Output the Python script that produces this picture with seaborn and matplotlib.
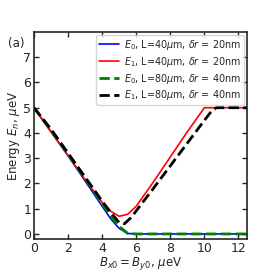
import numpy as np
import pandas as pd
import seaborn as sns
import matplotlib.pyplot as plt

# values
b_e0_L40 = [0, 1, 2, 3, 4, 4.5, 5.0, 5.5, 6, 8, 10, 12.5]
e_e0_L40 = [5, 4.05, 3.1, 2.1, 1.1, 0.6, 0.22, 0.02, 0.0, 0.0, 0.0, 0.0]

b_e1_L40 = [0, 1, 2, 3, 4, 4.5, 5.0, 5.5, 6.0, 7, 8, 9, 10, 12.5]
e1_L40 = [5, 4.05, 3.1, 2.15, 1.25, 0.9, 0.7, 0.78, 1.1, 2.05, 3.05, 4.05, 5.0, 5.0]

b_e0_L80 = [0, 1, 2, 3, 4, 4.5, 5.0, 5.5, 6, 8, 10, 12.5]
e_e0_L80 = [5, 4.1, 3.15, 2.2, 1.2, 0.7, 0.3, 0.02, 0.0, 0.0, 0.0, 0.0]

b_e1_L80 = [0, 1, 2, 3, 4, 4.5, 5.0, 5.3, 5.7, 7, 8, 9, 10, 10.4, 10.7, 12.5]
e1_L80 = [5, 4.15, 3.2, 2.25, 1.3, 0.85, 0.45, 0.4, 0.65, 1.8, 2.7, 3.6, 4.5, 4.85, 5.0, 5.0]

labels = [r"$E_0$, L=40$\mu$m, $\delta r$ = 20nm",
          r"$E_1$, L=40$\mu$m, $\delta r$ = 20nm",
          r"$E_0$, L=80$\mu$m, $\delta r$ = 40nm",
          r"$E_1$, L=80$\mu$m, $\delta r$ = 40nm"]

sns.set_style("ticks")
plt.rcParams["font.family"] = ["DejaVu Sans"]

fig = plt.figure(figsize=(2.74, 2.74), dpi=100)
ax = fig.add_axes([34 / 274, 35 / 274, 213 / 274, 207 / 274])

sns.lineplot(x=b_e0_L40, y=e_e0_L40, color="blue", lw=1.2, label=labels[0], ax=ax)
sns.lineplot(x=b_e1_L40, y=e1_L40, color="red", lw=1.2, label=labels[1], ax=ax)
sns.lineplot(x=b_e0_L80, y=e_e0_L80, color="green", lw=2.0, ls="--", label=labels[2], ax=ax)
sns.lineplot(x=b_e1_L80, y=e1_L80, color="black", lw=2.0, ls="--", label=labels[3], ax=ax)

ax.set_xlim(0, 12.5)
ax.set_ylim(-0.2, 8)
ax.set_xticks(range(0, 13, 2))
ax.set_yticks(range(0, 8))
ax.tick_params(direction="in", top=True, right=True, labelsize=9, length=3.5, width=1, pad=2)
for sp in ax.spines.values():
    sp.set_linewidth(1.2)

ax.set_xlabel(r"$B_{x0} = B_{y0}$, $\mu$eV", fontsize=8.5, labelpad=0)
ax.set_ylabel(r"Energy $E_n$, $\mu$eV", fontsize=8.5, labelpad=1)

ax.legend(loc="upper right", fontsize=6.9, handlelength=2.1, borderpad=0.3,
          labelspacing=0.3, handletextpad=0.5, borderaxespad=0.3, fancybox=True)

fig.text(8 / 274, 1 - 47 / 274, "(a)", fontsize=8.5)

fig.savefig("out.png", dpi=100)
